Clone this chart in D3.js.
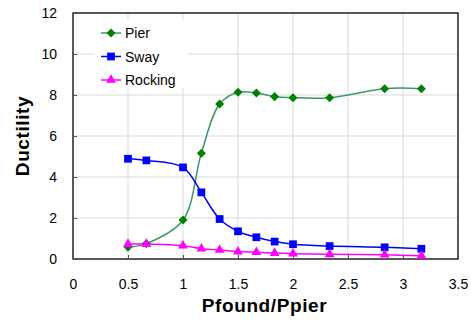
<!DOCTYPE html>
<html>
<head>
<meta charset="utf-8">
<script src="https://cdn.jsdelivr.net/npm/d3@7"></script>
<style>
  body { margin: 0; background: #fff; }
  text { font-family: "Liberation Sans", Arial, sans-serif; }
</style>
</head>
<body>
<svg id="chart"></svg>
<script>
// data
const ratio   = [0.5, 0.667, 1.0, 1.167, 1.333, 1.5, 1.667, 1.833, 2.0, 2.333, 2.833, 3.167];
const pier    = [0.58, 0.75, 1.9, 5.16, 7.56, 8.13, 8.1, 7.92, 7.87, 7.87, 8.31, 8.31];
const sway    = [4.89, 4.81, 4.47, 3.25, 1.95, 1.35, 1.06, 0.85, 0.72, 0.63, 0.57, 0.5];
const rocking = [0.73, 0.73, 0.65, 0.5, 0.44, 0.36, 0.33, 0.29, 0.26, 0.23, 0.21, 0.16];
const xTicks = [0, 0.5, 1, 1.5, 2, 2.5, 3, 3.5];
const yTicks = [0, 2, 4, 6, 8, 10, 12];

const series = [
  { name: "Pier", values: pier, line: "#3a9a66", fill: "#008000", symbol: d3.symbolDiamond2, size: 52 },
  { name: "Sway", values: sway, line: "#0000ff", fill: "#0000ff", symbol: d3.symbolSquare, size: 60 },
  { name: "Rocking", values: rocking, line: "#ff00ff", fill: "#ff00ff", symbol: d3.symbolTriangle, size: 42 }
];

const w = 471, h = 322;
const margin = { top: 13, right: 13, bottom: 63, left: 73 };

const svg = d3.select("#chart").attr("width", w).attr("height", h);

const x = d3.scaleLinear().domain([0, 3.5]).range([margin.left, w - margin.right]);
const y = d3.scaleLinear().domain([0, 12]).range([h - margin.bottom, margin.top]);

// gridlines
svg.append("g")
  .selectAll("line")
  .data(xTicks.slice(1, -1))
  .join("line")
    .attr("x1", d => x(d)).attr("x2", d => x(d))
    .attr("y1", y(12)).attr("y2", y(0))
    .attr("stroke", "#d9d9d9");

svg.append("g")
  .selectAll("line")
  .data(yTicks.slice(1, -1))
  .join("line")
    .attr("x1", x(0)).attr("x2", x(3.5))
    .attr("y1", d => y(d)).attr("y2", d => y(d))
    .attr("stroke", "#d9d9d9");

// legend background hides the grid behind it
svg.append("rect")
  .attr("x", 95).attr("y", 20).attr("width", 93).attr("height", 68)
  .attr("fill", "#fff");

// plot frame
svg.append("rect")
  .attr("x", x(0)).attr("y", y(12))
  .attr("width", x(3.5) - x(0)).attr("height", y(0) - y(12))
  .attr("fill", "none").attr("stroke", "#000").attr("stroke-width", 1.3);

// axes
let xAxis = g => g
  .attr("transform", `translate(0,${y(0)})`)
  .call(d3.axisBottom(x).tickValues(xTicks).tickSize(-4).tickPadding(20).tickFormat(d3.format("")))
  .call(g => g.select(".domain").remove())
  .call(g => g.selectAll(".tick line").attr("stroke", "#555"))
  .call(g => g.selectAll("text").attr("font-size", 14).attr("fill", "#000"));

svg.append("g").call(xAxis);

let yAxis = g => g
  .attr("transform", `translate(${x(0)},0)`)
  .call(d3.axisLeft(y).tickValues(yTicks).tickSize(-4).tickPadding(16))
  .call(g => g.select(".domain").remove())
  .call(g => g.selectAll(".tick line").attr("stroke", "#555"))
  .call(g => g.selectAll("text").attr("font-size", 14).attr("fill", "#000"));

svg.append("g").call(yAxis);

// axis titles
svg.append("text")
  .attr("x", (x(0) + x(3.5)) / 2 - 1).attr("y", 312)
  .attr("text-anchor", "middle")
  .attr("font-size", 19).attr("font-weight", "bold")
  .attr("letter-spacing", 0.6)
  .text("Pfound/Ppier");

svg.append("text")
  .attr("transform", `translate(29,${(y(0) + y(12)) / 2}) rotate(-90)`)
  .attr("text-anchor", "middle")
  .attr("font-size", 19).attr("font-weight", "bold")
  .attr("letter-spacing", 0.6)
  .text("Ductility");

// lines and markers
const line = d3.line()
  .x((d, i) => x(ratio[i]))
  .y(d => y(d))
  .curve(d3.curveCatmullRom.alpha(0.5));

const plot = svg.append("g");

series.forEach(s => {
  plot.append("path")
    .datum(s.values)
    .attr("d", line)
    .attr("fill", "none")
    .attr("stroke", s.line)
    .attr("stroke-width", 1.5);
});

series.forEach(s => {
  plot.append("g")
    .selectAll("path")
    .data(s.values)
    .join("path")
      .attr("transform", (d, i) => `translate(${x(ratio[i])},${y(d)})`)
      .attr("d", d3.symbol().type(s.symbol).size(s.size))
      .attr("fill", s.fill);
});

// legend
const legend = svg.append("g").attr("transform", "translate(101,33)");
series.forEach((s, i) => {
  const row = legend.append("g").attr("transform", `translate(0,${i * 23.5})`);
  row.append("line")
    .attr("x1", 0).attr("x2", 20)
    .attr("stroke", s.line).attr("stroke-width", 1.5);
  row.append("path")
    .attr("transform", "translate(10,0)")
    .attr("d", d3.symbol().type(s.symbol).size(s.size))
    .attr("fill", s.fill);
  row.append("text")
    .attr("x", 24).attr("y", 5)
    .attr("font-size", 14)
    .text(s.name);
});
</script>
</body>
</html>
